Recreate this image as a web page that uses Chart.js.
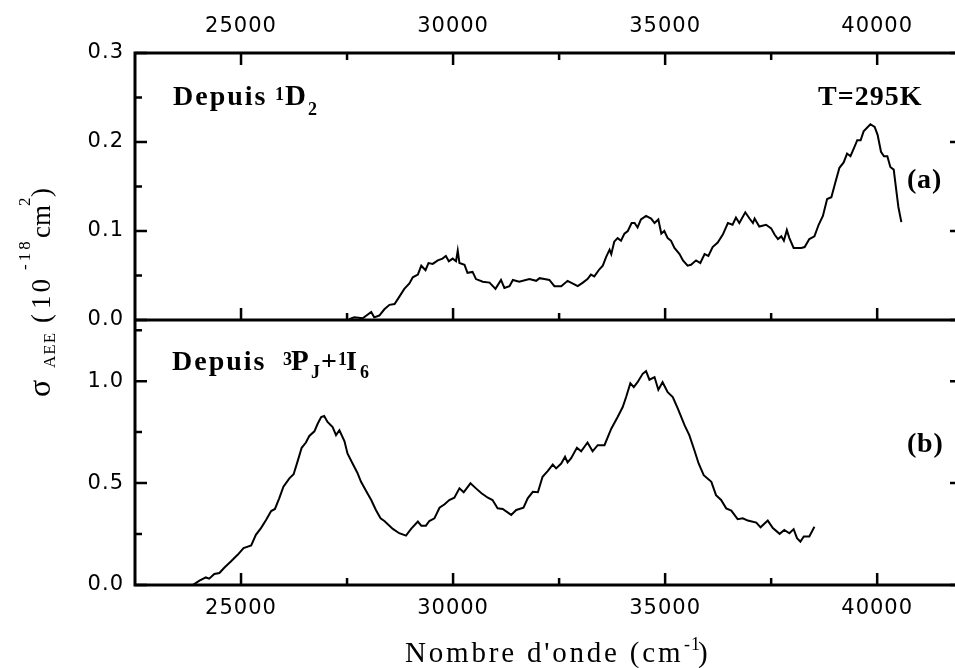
<!DOCTYPE html>
<html><head><meta charset="utf-8">
<script src="https://cdn.jsdelivr.net/npm/chart.js@4/dist/chart.umd.min.js"></script>
<style>html,body{margin:0;padding:0;overflow:hidden;background:#fff;width:955px;height:668px}canvas{display:block}</style>
</head><body><canvas id="c" width="970" height="668"></canvas>
<script>
// ---- data ----
const wavenumberA = [27550,27670,27870,28070,28140,28260,28380,28500,28620,28730,28850,28970,29050,29170,29250,29350,29420,29520,29640,29750,29830,29900,29990,30070,30110,30150,30270,30340,30460,30540,30700,30860,31000,31130,31210,31330,31410,31560,31800,31960,32040,32150,32270,32390,32550,32700,32860,32940,33060,33170,33250,33330,33450,33530,33610,33690,33730,33800,33880,33960,34040,34120,34210,34280,34350,34430,34550,34670,34750,34840,34910,34980,35060,35140,35220,35340,35420,35530,35610,35730,35830,35930,36020,36120,36240,36360,36480,36590,36670,36750,36890,36990,37070,37110,37220,37380,37500,37580,37660,37740,37800,37870,37930,38030,38210,38290,38400,38520,38620,38720,38820,38920,39010,39110,39210,39290,39370,39460,39530,39610,39680,39840,39940,40010,40090,40160,40240,40310,40390,40450,40500,40570];
const sigmaA = [0.001,0.003,0.002,0.009,0.003,0.005,0.012,0.017,0.018,0.026,0.035,0.041,0.048,0.051,0.061,0.056,0.064,0.063,0.067,0.069,0.072,0.066,0.069,0.066,0.078,0.064,0.062,0.053,0.054,0.046,0.043,0.042,0.035,0.045,0.036,0.038,0.045,0.043,0.046,0.044,0.047,0.046,0.045,0.038,0.038,0.044,0.040,0.038,0.042,0.046,0.051,0.049,0.057,0.061,0.071,0.079,0.074,0.088,0.092,0.089,0.097,0.100,0.109,0.109,0.104,0.113,0.117,0.114,0.109,0.113,0.097,0.100,0.092,0.089,0.081,0.074,0.067,0.061,0.062,0.067,0.064,0.074,0.072,0.082,0.087,0.096,0.109,0.107,0.115,0.109,0.121,0.114,0.109,0.114,0.105,0.107,0.103,0.096,0.091,0.094,0.089,0.101,0.092,0.081,0.081,0.082,0.091,0.094,0.107,0.117,0.136,0.138,0.154,0.171,0.177,0.187,0.184,0.194,0.202,0.202,0.212,0.220,0.217,0.208,0.189,0.184,0.184,0.172,0.169,0.146,0.127,0.110];

const wavenumberB = [23860,24020,24170,24250,24370,24490,24610,24760,24920,25060,25240,25350,25470,25590,25710,25800,25900,26000,26140,26240,26330,26430,26530,26610,26730,26810,26890,26960,27040,27160,27240,27320,27440,27510,27630,27740,27830,27950,28070,28180,28290,28380,28580,28730,28890,29010,29170,29250,29360,29440,29560,29680,29800,29910,30030,30150,30250,30410,30540,30670,30820,30930,31050,31170,31370,31490,31660,31760,31880,32000,32110,32230,32350,32430,32550,32640,32700,32780,32920,33020,33170,33290,33410,33570,33730,33880,34000,34080,34180,34260,34350,34470,34550,34630,34750,34840,34940,35060,35180,35300,35460,35570,35690,35790,35910,36090,36200,36320,36440,36560,36710,36830,36950,37150,37250,37420,37540,37700,37810,37930,38030,38110,38190,38270,38400,38520];
const sigmaB = [0.000,0.021,0.037,0.031,0.054,0.059,0.086,0.115,0.148,0.181,0.194,0.246,0.279,0.319,0.363,0.373,0.425,0.482,0.523,0.543,0.604,0.673,0.699,0.731,0.754,0.792,0.824,0.829,0.800,0.775,0.735,0.759,0.705,0.645,0.596,0.552,0.506,0.461,0.417,0.368,0.327,0.314,0.275,0.254,0.242,0.275,0.311,0.291,0.291,0.314,0.327,0.379,0.396,0.417,0.428,0.474,0.455,0.499,0.474,0.450,0.428,0.417,0.376,0.373,0.344,0.368,0.379,0.425,0.457,0.455,0.531,0.559,0.591,0.572,0.596,0.629,0.601,0.621,0.673,0.656,0.699,0.656,0.686,0.686,0.767,0.824,0.873,0.922,0.990,0.971,0.995,1.036,1.049,1.007,1.020,0.958,0.995,0.946,0.922,0.865,0.783,0.735,0.661,0.596,0.539,0.506,0.441,0.417,0.376,0.365,0.323,0.327,0.316,0.306,0.283,0.316,0.279,0.251,0.270,0.254,0.274,0.230,0.213,0.238,0.238,0.286];

const xRange = [22500, 42000];
const xTickValues = [25000, 30000, 35000, 40000];
const xMinorTicks = [27500, 32500, 37500];
const yTopRange = [0, 0.3];
const yTopTicks = [0, 0.1, 0.2, 0.3];
const yTopMinor = [0.05, 0.15, 0.25];
const yBotRange = [0, 1.3];
const yBotTicks = [0, 0.5, 1.0];
const yBotMinor = [0.25, 0.75, 1.25];

// ---- styling ----
const SANS = '"DejaVu Sans", "Liberation Sans", sans-serif';
const SERIF = '"Liberation Serif", "Times New Roman", serif';
const fixTicks = vals => scale => { scale.ticks = vals.map(v => ({value: v})); };
const noGrid = {display: false, drawTicks: false, tickLength: 0};
const tickFont = {family: SANS, size: 21};

function xScale(pos, h, pad) {
  return {type: 'linear', position: pos, min: xRange[0], max: xRange[1],
    afterBuildTicks: fixTicks(xTickValues), afterFit: s => { s.height = h; },
    grid: noGrid, border: {display: false},
    ticks: {font: tickFont, color: '#000', padding: pad, maxRotation: 0, autoSkip: false, callback: v => String(v)}};
}
function yScale(range, ticks, weight) {
  return {type: 'linear', position: 'left', stack: 'panels', stackWeight: weight,
    min: range[0], max: range[1], afterBuildTicks: fixTicks(ticks), afterFit: s => { s.width = 135; },
    grid: noGrid, border: {display: false},
    ticks: {font: tickFont, color: '#000', padding: 11, autoSkip: false, callback: v => Number(v).toFixed(1)}};
}

function t(ctx, s, x, y, font, sp) { ctx.font = font; ctx.letterSpacing = (sp || 0) + 'px'; ctx.fillText(s, x, y); }

const framePlugin = {
  id: 'frame',
  beforeDraw(chart) { chart.ctx.letterSpacing = '1px'; },
  afterDraw(chart) {
    const ctx = chart.ctx, xs = chart.scales.x, yt = chart.scales.yTop, yb = chart.scales.yBot;
    const L = xs.left, R = xs.right;
    const T = yt.getPixelForValue(yTopRange[1]), M = yt.getPixelForValue(0), B = yb.getPixelForValue(0);
    ctx.save();
    ctx.letterSpacing = '0px';
    ctx.strokeStyle = '#000';
    ctx.lineWidth = 2.5;
    ctx.beginPath();
    const tick = (x1, y1, x2, y2) => { ctx.moveTo(x1, y1); ctx.lineTo(x2, y2); };
    xTickValues.concat(xMinorTicks).forEach(v => {
      const len = xTickValues.includes(v) ? 12 : 7, px = xs.getPixelForValue(v);
      tick(px, T, px, T + len);
      tick(px, M, px, M - len);
      tick(px, B, px, B - len);
    });
    const yt2 = (sc, major, minor) => major.concat(minor).forEach(v => {
      const len = major.includes(v) ? 12 : 7, py = sc.getPixelForValue(v);
      tick(L, py, L + len, py); tick(R, py, R - len, py);
    });
    yt2(yt, yTopTicks, yTopMinor);
    yt2(yb, yBotTicks, yBotMinor);
    ctx.stroke();
    ctx.lineWidth = 3;
    ctx.strokeRect(L, T, R - L, B - T);
    ctx.beginPath(); ctx.moveTo(L, M); ctx.lineTo(R, M); ctx.stroke();

    ctx.fillStyle = '#000';
    ctx.textAlign = 'left'; ctx.textBaseline = 'alphabetic';
    const BIG = 'bold 28px ' + SERIF, SM = 'bold 18px ' + SERIF;
    // panel (a)
    t(ctx, 'Depuis', 173, 105, BIG, 2);
    t(ctx, '1', 275, 100, SM);
    t(ctx, 'D', 285, 105, 'bold 29px ' + SERIF, 1);
    t(ctx, '2', 308, 115, SM);
    t(ctx, 'T=295K', 818, 105, BIG, 1);
    t(ctx, '(a)', 907, 188, BIG, 0.8);
    // panel (b)
    t(ctx, 'Depuis', 172, 370, BIG, 2);
    t(ctx, '3', 283, 365, SM);
    t(ctx, 'P', 291, 370, 'bold 29px ' + SERIF, 1);
    t(ctx, 'J', 311, 378, SM);
    t(ctx, '+', 321, 370, BIG);
    t(ctx, '1', 338, 365, SM);
    t(ctx, 'I', 346, 370, BIG);
    t(ctx, '6', 360, 378, SM);
    t(ctx, '(b)', 907, 452, BIG, 0.8);
    // x title
    t(ctx, "Nombre d'onde (cm", 405, 662, '29px ' + SERIF, 2.8);
    t(ctx, '-1', 684, 650, '18px ' + SERIF, 1);
    t(ctx, ')', 698, 662, '29px ' + SERIF);
    // y title (rotated)
    ctx.translate(50, 397);
    ctx.rotate(-Math.PI / 2);
    t(ctx, 'σ', 0, 0, '32px ' + SERIF);
    t(ctx, 'AEE', 29, 5, '17px ' + SERIF, 1);
    t(ctx, '(', 74, 0, '27px ' + SERIF);
    t(ctx, '10', 88, 0, '27px ' + SERIF, 3);
    t(ctx, '-18', 127, -20, '17px ' + SERIF, 3);
    t(ctx, 'cm', 159, 0, '27px ' + SERIF);
    t(ctx, '2', 191, -20, '17px ' + SERIF);
    t(ctx, ')', 200, 0, '27px ' + SERIF);
    ctx.restore();
  }
};

new Chart(document.getElementById('c'), {
  type: 'line',
  data: {
    datasets: [
      {label: 'Depuis 1D2', data: wavenumberA.map((x, i) => ({x, y: sigmaA[i]})), xAxisID: 'x', yAxisID: 'yTop',
       borderColor: '#000', borderWidth: 2, pointRadius: 0, tension: 0, fill: false},
      {label: 'Depuis 3PJ+1I6', data: wavenumberB.map((x, i) => ({x, y: sigmaB[i]})), xAxisID: 'x', yAxisID: 'yBot',
       borderColor: '#000', borderWidth: 2, pointRadius: 0, tension: 0, fill: false}
    ]
  },
  options: {
    responsive: false, animation: false, devicePixelRatio: 1,
    layout: {padding: {left: 0, right: 8, top: 0, bottom: 0}},
    plugins: {legend: {display: false}, tooltip: {enabled: false}, title: {display: false}},
    scales: {
      x: xScale('bottom', 83, 11),
      xTop: xScale('top', 53, 14),
      yBot: yScale(yBotRange, yBotTicks, 265),
      yTop: yScale(yTopRange, yTopTicks, 267)
    }
  },
  plugins: [framePlugin]
});
</script></body></html>
